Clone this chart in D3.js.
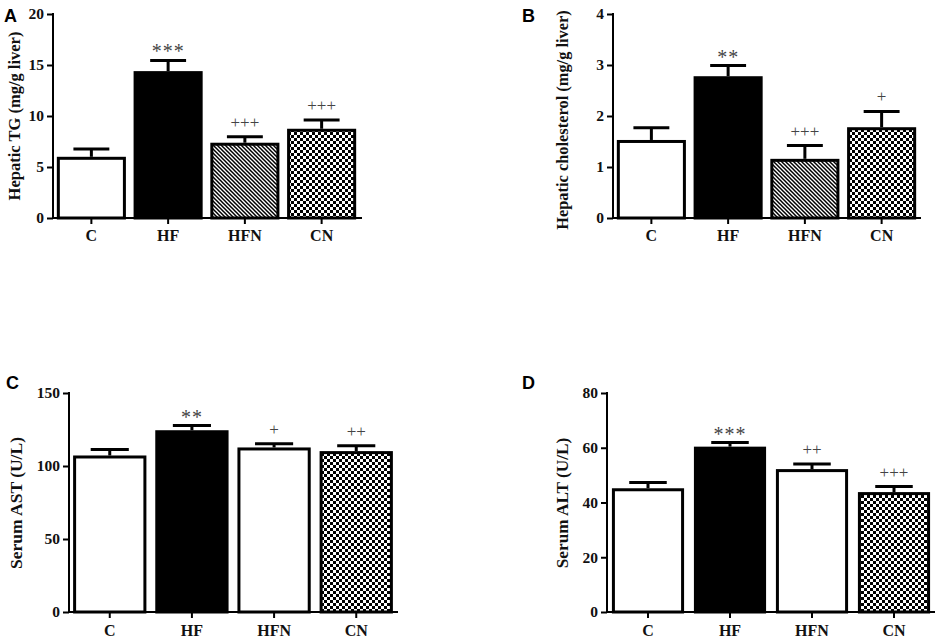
<!DOCTYPE html>
<html>
<head>
<meta charset="utf-8">
<script src="https://cdn.jsdelivr.net/npm/d3@7"></script>
<style>
  html, body { margin: 0; padding: 0; background: #fff; }
  svg { display: block; }
  .tick-label { font-family: "Liberation Serif", "Times New Roman", serif; font-weight: bold; font-size: 15.5px; fill: #111; }
  .cat-label { font-family: "Liberation Serif", "Times New Roman", serif; font-weight: bold; font-size: 16px; fill: #111; }
  .y-title { font-family: "Liberation Serif", "Times New Roman", serif; font-weight: bold; fill: #111; }
  .panel-letter { font-family: "Liberation Sans", Arial, sans-serif; font-weight: bold; font-size: 18px; fill: #000; }
  .mark-star { font-family: "Liberation Serif", "Times New Roman", serif; font-size: 20px; fill: #444; letter-spacing: 1px; }
  .mark-plus { font-family: "Liberation Serif", "Times New Roman", serif; font-size: 17px; fill: #444; }
</style>
</head>
<body>
<svg id="chart" width="941" height="641"></svg>
<script>
// ---- Data ----
const categories = ["C", "HF", "HFN", "CN"];

const tgValues   = [6.0, 14.4, 7.38, 8.75];
const tgErrors   = [0.76, 1.05, 0.59, 0.85];
const tgTicks    = [0, 5, 10, 15, 20];
const tgMarks    = ["", "***", "+++", "+++"];

const cholValues = [1.53, 2.78, 1.16, 1.78];
const cholErrors = [0.24, 0.21, 0.26, 0.31];
const cholTicks  = [0, 1, 2, 3, 4];
const cholMarks  = ["", "**", "+++", "+"];

const astValues  = [107.2, 124.5, 112.7, 110.2];
const astErrors  = [4.1, 3.2, 2.5, 3.6];
const astTicks   = [0, 50, 100, 150];
const astMarks   = ["", "**", "+", "++"];

const altValues  = [45.2, 60.4, 52.2, 43.8];
const altErrors  = [2.1, 1.5, 1.9, 2.0];
const altTicks   = [0, 20, 40, 60, 80];
const altMarks   = ["", "***", "++", "+++"];

const topFills    = ["white", "black", "hatch", "checker"];
const bottomFills = ["white", "black", "white", "checker"];

const titles = {
  A: "Hepatic TG (mg/g liver)",
  B: "Hepatic cholesterol (mg/g liver)",
  C: "Serum AST (U/L)",
  D: "Serum ALT (U/L)"
};

// ---- Layout (positions only) ----
const panels = [
  { id: "A", values: tgValues, errors: tgErrors, ticks: tgTicks, marks: tgMarks, fills: topFills,
    axisX: 53, top: 14, bottom: 218, rangeEnd: 360, axisEnd: 362, pi: 0.1, po: 0.05,
    titleX: 14, titleY: 116, titleSize: 16.5, catY: 23, letterX: 4, letterY: 22 },
  { id: "B", values: cholValues, errors: cholErrors, ticks: cholTicks, marks: cholMarks, fills: topFills,
    axisX: 613, top: 14, bottom: 218, rangeEnd: 920, axisEnd: 921, pi: 0.1, po: 0.05,
    titleX: 562, titleY: 120, titleSize: 16.4, catY: 23, letterX: 522, letterY: 22 },
  { id: "C", values: astValues, errors: astErrors, ticks: astTicks, marks: astMarks, fills: bottomFills,
    axisX: 69, top: 393, bottom: 612, rangeEnd: 397, axisEnd: 398, pi: 0.108, po: 0.05,
    titleX: 16, titleY: 503, titleSize: 17.5, catY: 24, letterX: 6, letterY: 389 },
  { id: "D", values: altValues, errors: altErrors, ticks: altTicks, marks: altMarks, fills: bottomFills,
    axisX: 607, top: 393, bottom: 612, rangeEnd: 935, axisEnd: 935, pi: 0.12, po: 0.06,
    titleX: 562, titleY: 503, titleSize: 17.3, catY: 24, letterX: 522, letterY: 389 }
];

const svg = d3.select("#chart");
const defs = svg.append("defs");

// hatch pattern (lines running down-right)
const hatch = defs.append("pattern").attr("id", "hatch")
  .attr("patternUnits", "userSpaceOnUse").attr("width", 4).attr("height", 4);
hatch.append("rect").attr("width", 4).attr("height", 4).attr("fill", "#fff");
hatch.append("path").attr("d", "M-1,-1 L5,5 M3,-1 L5,1 M-1,3 L1,5")
  .attr("stroke", "#000").attr("stroke-width", 1.5);

// checkerboard pattern
const cell = 3;
const chk = defs.append("pattern").attr("id", "checker")
  .attr("patternUnits", "userSpaceOnUse").attr("width", cell * 2).attr("height", cell * 2);
chk.append("rect").attr("width", cell * 2).attr("height", cell * 2).attr("fill", "#fff");
chk.append("rect").attr("x", 0).attr("y", 0).attr("width", cell).attr("height", cell).attr("fill", "#000");
chk.append("rect").attr("x", cell).attr("y", cell).attr("width", cell).attr("height", cell).attr("fill", "#000");

function fillFor(f) {
  if (f === "white") return "#fff";
  if (f === "black") return "#000";
  return "url(#" + f + ")";
}

panels.forEach(p => {
  const g = svg.append("g");
  const yMax = p.ticks[p.ticks.length - 1];
  const y = d3.scaleLinear().domain([0, yMax]).range([p.bottom, p.top]);
  const x = d3.scaleBand().domain(categories).range([p.axisX, p.rangeEnd])
    .paddingInner(p.pi).paddingOuter(p.po);
  const bw = x.bandwidth();
  const sw = 3;

  // bars
  g.selectAll("rect.bar").data(categories).enter().append("rect")
    .attr("class", "bar")
    .attr("x", d => x(d) + sw / 2)
    .attr("y", (d, i) => y(p.values[i]) + sw / 2)
    .attr("width", bw - sw)
    .attr("height", (d, i) => y(0) - y(p.values[i]) - sw / 2)
    .attr("fill", (d, i) => fillFor(p.fills[i]))
    .attr("stroke", "#000").attr("stroke-width", sw);

  // error bars (upper only) and significance marks
  categories.forEach((c, i) => {
    const cx = x(c) + bw / 2;
    const yv = y(p.values[i]);
    const ye = y(p.values[i] + p.errors[i]);
    g.append("line").attr("x1", cx).attr("x2", cx).attr("y1", yv).attr("y2", ye)
      .attr("stroke", "#000").attr("stroke-width", 3);
    g.append("line").attr("x1", cx - bw * 0.26).attr("x2", cx + bw * 0.26).attr("y1", ye).attr("y2", ye)
      .attr("stroke", "#000").attr("stroke-width", 3);
    const m = p.marks[i];
    if (m) {
      const isStar = m[0] === "*";
      g.append("text").attr("class", isStar ? "mark-star" : "mark-plus")
        .attr("x", cx).attr("y", isStar ? ye - 2 : ye - 9)
        .attr("text-anchor", "middle").text(m);
    }
  });

  // y axis
  const yAxis = d3.axisLeft(y).tickValues(p.ticks).tickSize(6).tickPadding(3).tickFormat(d3.format("d"));
  const ya = g.append("g").attr("transform", `translate(${p.axisX},0)`).call(yAxis);
  ya.attr("font-size", null).attr("font-family", null);
  ya.select(".domain").remove();
  ya.append("line").attr("x1", 0).attr("x2", 0).attr("y1", p.top - 1).attr("y2", p.bottom + 1)
    .attr("stroke", "#000").attr("stroke-width", 2);
  ya.selectAll(".tick line").attr("stroke", "#000").attr("stroke-width", 2);
  ya.selectAll(".tick text").attr("class", "tick-label").attr("fill", null);

  // x axis
  const xAxis = d3.axisBottom(x).tickSize(6);
  const xa = g.append("g").attr("transform", `translate(0,${p.bottom})`).call(xAxis);
  xa.attr("font-size", null).attr("font-family", null);
  xa.select(".domain").remove();
  xa.append("line").attr("x1", p.axisX - 1).attr("x2", p.axisEnd).attr("y1", 0).attr("y2", 0)
    .attr("stroke", "#000").attr("stroke-width", 2);
  xa.selectAll(".tick line").attr("stroke", "#000").attr("stroke-width", 2);
  xa.selectAll(".tick text").attr("class", "cat-label").attr("fill", null)
    .attr("y", p.catY).attr("dy", null);

  // y title
  g.append("text").attr("class", "y-title")
    .style("font-size", p.titleSize + "px")
    .attr("transform", `translate(${p.titleX},${p.titleY}) rotate(-90)`)
    .attr("text-anchor", "middle").attr("dominant-baseline", "central")
    .text(titles[p.id]);

  // panel letter
  g.append("text").attr("class", "panel-letter").attr("x", p.letterX).attr("y", p.letterY).text(p.id);
});
</script>
</body>
</html>
